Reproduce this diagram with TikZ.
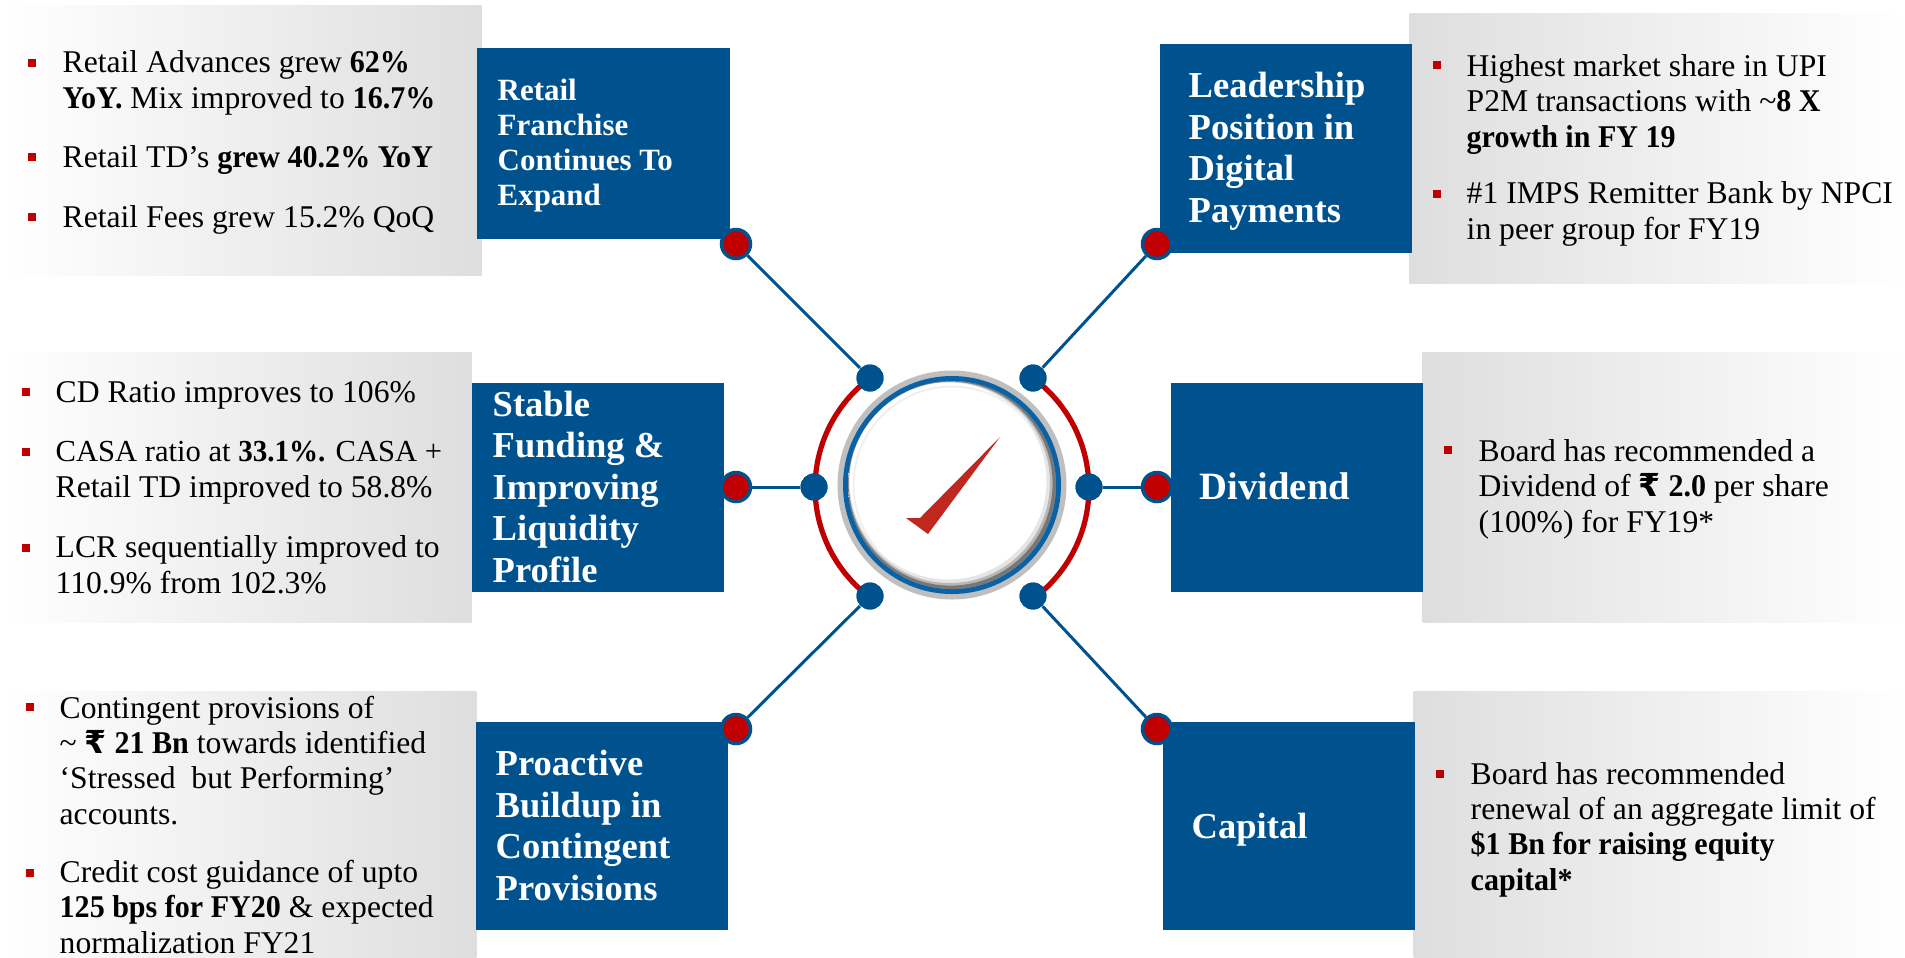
\documentclass[tikz,border=0pt]{standalone}
\usepackage{fontspec}
\setmainfont{Liberation Serif}[BoldFeatures={FakeStretch=0.95}]
\newfontfamily\headfont{Liberation Serif}
\newfontfamily\rupeefont{DejaVu Sans}
\definecolor{bankblue}{HTML}{00528F}
\definecolor{bankred}{HTML}{C00000}
\definecolor{panelgray}{HTML}{DEDEDE}
\definecolor{checkred}{HTML}{C0281F}
\definecolor{hubring}{HTML}{0A62A6}
\pgfdeclareradialshading{hubface}{\pgfpoint{4bp}{-4bp}}{%
  color(0bp)=(white); color(36bp)=(white); color(46bp)=(white!88!black);
  color(50bp)=(white!76!black); color(54bp)=(white!68!black); color(60bp)=(white!60!black)}
\newcommand{\rs}{{\rupeefont\bfseries ₹}}
\tikzset{
  panelL/.style={anchor=north west,inner sep=0pt,minimum height=2.7cm,left color=white,right color=panelgray,draw=none},
  panelR/.style={anchor=north west,inner sep=0pt,minimum height=2.7cm,left color=panelgray,right color=white,draw=none},
  headbox/.style={anchor=north west,inner sep=0pt,fill=bankblue,minimum width=2.52cm,minimum height=2.09cm},
  headsmall/.style={anchor=base west,inner sep=0pt,text=white,align=left,font=\fontsize{8.8}{9.96}\selectfont\headfont\bfseries},
  headbig/.style={anchor=base west,inner sep=0pt,text=white,align=left,font=\fontsize{10.4}{11.8}\selectfont\headfont\bfseries},
  itemtext/.style={anchor=base west,inner sep=0pt,text=black,align=left,font=\fontsize{9}{10}\selectfont},
  bulletbox/.style={inner sep=0pt,fill=bankred,minimum size=0.085cm},
  hubdot/.style={circle,inner sep=0pt,fill=bankblue,minimum size=0.27cm},
  enddot/.style={circle,inner sep=0pt,fill=bankred,draw=bankblue,line width=1pt,minimum size=0.29cm},
  spoke/.style={draw=bankblue,line width=0.85pt},
  redarc/.style={draw=bankred,line width=1.5pt},
}
\begin{document}
\begin{tikzpicture}[y=-1cm]
\useasboundingbox (0,0) rectangle (19.05,9.57);

% panels at the left:
\node[panelL,minimum width=4.81cm] (panelA) at (0,0.05) {};
\node[panelL,minimum width=4.71cm] (panelB) at (0,3.52) {};
\node[panelL,minimum width=4.76cm,minimum height=2.66cm] (panelC) at (0,6.91) {};
% panels at the right:
\node[panelR,minimum width=4.96cm] (panelD) at (14.09,0.13) {};
\node[panelR,minimum width=4.83cm] (panelE) at (14.22,3.52) {};
\node[panelR,minimum width=4.92cm,minimum height=2.66cm] (panelF) at (14.13,6.91) {};

% heading boxes:
\node[headbox,minimum width=2.53cm,minimum height=1.91cm] (headA) at (4.76,0.47) {};
\node[headbox] (headB) at (4.71,3.82) {};
\node[headbox,minimum height=2.08cm] (headC) at (4.75,7.21) {};
\node[headbox] (headD) at (11.59,0.43) {};
\node[headbox] (headE) at (11.70,3.82) {};
\node[headbox,minimum height=2.08cm] (headF) at (11.62,7.21) {};

\node[headsmall] (titleA) at (4.97,2.05) {Retail\\Franchise\\Continues To\\Expand};
\node[headbig] (titleB) at (4.92,5.82) {Stable\\Funding \&\\Improving\\Liquidity\\Profile};
\node[headbig] (titleC) at (4.95,9.00) {Proactive\\Buildup in\\Contingent\\Provisions};
\node[headbig] (titleD) at (11.88,2.22) {Leadership\\Position in\\Digital\\Payments};
\node[headbig,font=\fontsize{11}{11.8}\selectfont\headfont\bfseries] (titleE) at (11.99,4.99) {Dividend};
\node[headbig] (titleF) at (11.91,8.38) {Capital};

% bullets, left:
\node[bulletbox] (markA) at (0.32,0.63) {};
\node[itemtext] (itemA) at (0.62,1.08) {Retail Advances grew \textbf{62\%}\\\textbf{YoY.} Mix improved to \textbf{16.7\%}};
\node[bulletbox] (markB) at (0.32,1.57) {};
\node[itemtext] (itemB) at (0.62,1.67) {Retail TD’s \textbf{grew 40.2\% YoY}};
\node[bulletbox] (markC) at (0.32,2.17) {};
\node[itemtext] (itemC) at (0.62,2.27) {Retail Fees grew 15.2\% QoQ};
\node[bulletbox] (markD) at (0.26,3.92) {};
\node[itemtext] (itemD) at (0.55,4.02) {CD Ratio improves to 106\%};
\node[bulletbox] (markE) at (0.26,4.52) {};
\node[itemtext] (itemE) at (0.55,4.97) {{\fontsize{8.7}{10}\selectfont CASA ratio at \textbf{33.1\%.} CASA +}\\Retail TD improved to 58.8\%};
\node[bulletbox] (markF) at (0.26,5.48) {};
\node[itemtext] (itemF) at (0.55,5.93) {LCR sequentially improved to\\110.9\% from 102.3\%};
\node[bulletbox] (markG) at (0.30,7.07) {};
\node[itemtext] (itemG) at (0.59,8.24) {Contingent provisions of\\\textasciitilde{} \rs{} \textbf{21 Bn} towards identified\\‘Stressed\ \ but Performing’\\accounts.};
\node[bulletbox] (markH) at (0.30,8.73) {};
\node[itemtext] (itemH) at (0.59,9.53) {Credit cost guidance of upto\\\textbf{125 bps for FY20} \& expected\\normalization FY21};

% bullets, right:
\node[bulletbox] (markI) at (14.37,0.65) {};
\node[itemtext] (itemI) at (14.66,1.47) {Highest market share in UPI\\P2M transactions with \textasciitilde\textbf{8 X}\\\textbf{growth in FY 19}};
\node[bulletbox] (markJ) at (14.37,1.94) {};
\node[itemtext] (itemJ) at (14.66,2.39) {\#1 IMPS Remitter Bank by NPCI\\in peer group for FY19};
\node[bulletbox] (markK) at (14.48,4.50) {};
\node[itemtext] (itemK) at (14.78,5.32) {Board has recommended a\\Dividend of \rs{} \textbf{2.0} per share\\(100\%) for FY19*};
\node[bulletbox] (markL) at (14.40,7.74) {};
\node[itemtext] (itemL) at (14.70,8.90) {Board has recommended\\renewal of an aggregate limit of\\\textbf{\$1 Bn for raising equity}\\\textbf{capital*}};

% hub:
\node[circle,inner sep=0pt,fill=white!75!black,minimum size=2.29cm] (hub) at (9.52,4.85) {};
\fill[hubring] (hub.center) circle (1.09cm);
\shade[shading=hubface] (hub.center) circle (1.04cm);
\fill[black,opacity=0.1,even odd rule] (hub.center) circle (1.04) +(-0.04,-0.04) circle (0.985);
\fill[black,opacity=0.2,even odd rule] (hub.center) circle (1.04) +(-0.025,-0.025) circle (1.005);
\fill[black,opacity=0.35,even odd rule] (hub.center) circle (1.04) +(-0.014,-0.014) circle (1.02);
\draw[white!94!black,line width=0.55pt] (hub.center) +(140:0.985) arc (140:320:0.985);
\fill[checkred] (10.00,4.37) -- (9.20,5.18) -- (9.06,5.18) -- (9.28,5.34) -- cycle;

% dots on the hub and at the ends:
\node[hubdot] (hubTL) at (8.70,3.78) {};
\node[hubdot] (hubML) at (8.14,4.87) {};
\node[hubdot] (hubBL) at (8.70,5.96) {};
\node[hubdot] (hubTR) at (10.33,3.78) {};
\node[hubdot] (hubMR) at (10.89,4.87) {};
\node[hubdot] (hubBR) at (10.33,5.96) {};
\node[enddot] (endTL) at (7.36,2.44) {};
\node[enddot] (endML) at (7.36,4.87) {};
\node[enddot] (endBL) at (7.36,7.29) {};
\node[enddot] (endTR) at (11.57,2.44) {};
\node[enddot] (endMR) at (11.57,4.87) {};
\node[enddot] (endBR) at (11.57,7.29) {};

\draw[redarc] (hubTL.center) arc (233.2:126.8:1.37);
\draw[redarc] (hubTR.center) arc (-53.7:53.7:1.37);
\node[hubdot] at (hubTL) {};
\node[hubdot] at (hubML) {};
\node[hubdot] at (hubBL) {};
\node[hubdot] at (hubTR) {};
\node[hubdot] at (hubMR) {};
\node[hubdot] at (hubBR) {};

\draw[spoke] (endTL) -- (hubTL);
\draw[spoke] (endML) -- (hubML);
\draw[spoke] (endBL) -- (hubBL);
\draw[spoke] (endTR) -- (hubTR);
\draw[spoke] (endMR) -- (hubMR);
\draw[spoke] (endBR) -- (hubBR);

\end{tikzpicture}
\end{document}
